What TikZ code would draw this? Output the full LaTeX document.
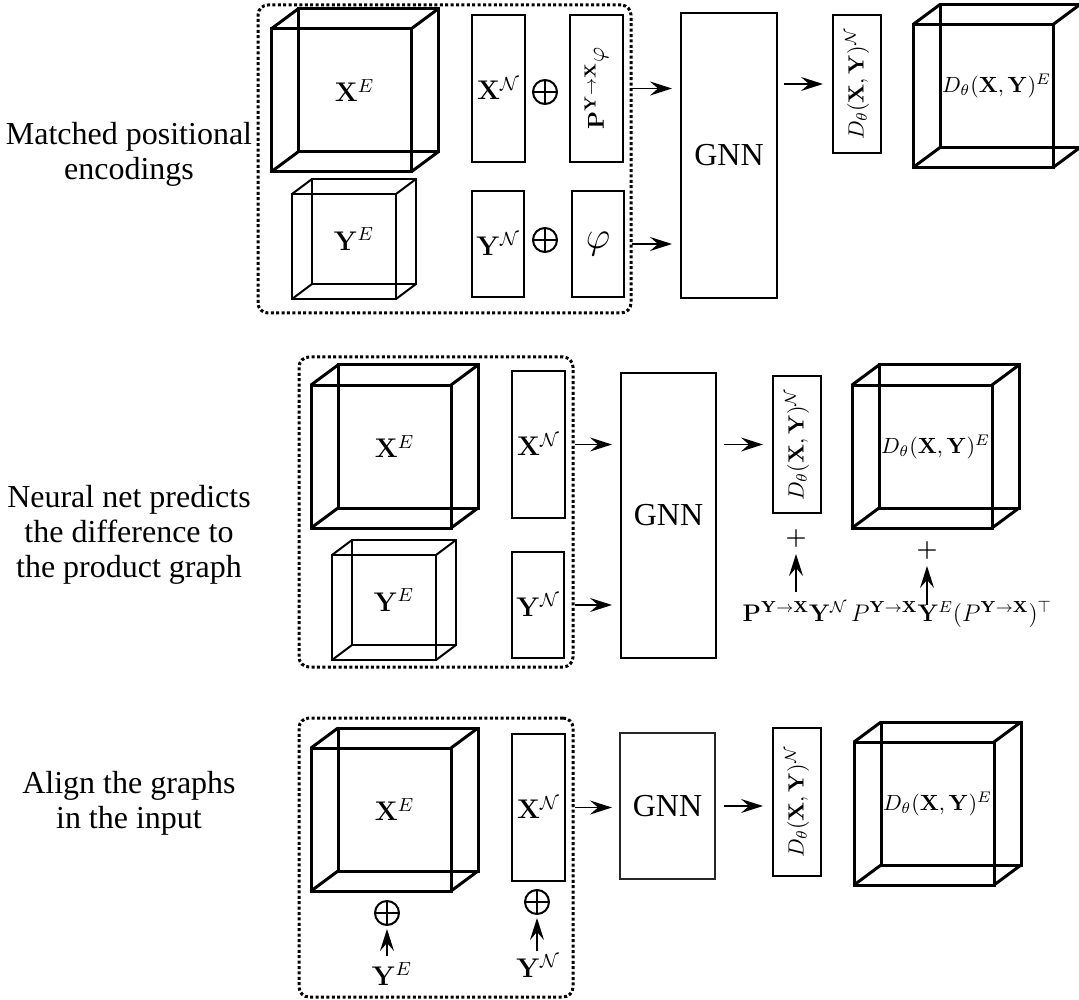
\RequirePackage{fix-cm}
\documentclass[tikz,border=0pt]{standalone}
\usepackage[no-math]{fontspec}
\setmainfont{Liberation Serif}
\usepackage{amsmath}
\usepackage{amssymb}
\usepackage{tikz}
\usetikzlibrary{arrows.meta, calc}

\begin{document}
\begin{tikzpicture}[
    x=0.5pt, y=-0.5pt,
    every node/.style={inner sep=0pt, outer sep=0pt},
    bigface/.style={draw, line width=1.5pt, minimum width=70pt, minimum height=71.5pt},
    smallface/.style={draw, line width=1pt, minimum width=52pt, minimum height=52.5pt},
    slab/.style={draw, line width=1pt, minimum width=26.5pt, minimum height=73.5pt},
    shortslab/.style={draw, line width=1pt, minimum width=26pt, minimum height=53pt},
    outslab/.style={draw, line width=1pt, minimum width=24pt, minimum height=69pt},
    gnn/.style={draw, line width=1pt, minimum width=48pt, minimum height=142.5pt,
                font=\fontsize{16}{19}\selectfont},
    dotgroup/.style={draw, line width=1.5pt, dash pattern=on 1.5pt off 1.2pt, rounded corners=5pt},
    rowtext/.style={align=center, font=\fontsize{16}{17.5}\selectfont},
    mlbl/.style={font=\fontsize{13.5}{16}\selectfont},
    dlbl/.style={font=\fontsize{11}{13}\selectfont},
    plbl/.style={font=\fontsize{12}{14}\selectfont},
    oplus/.style={circle, draw, line width=1pt, minimum size=12pt,
                  path picture={\draw[line width=1pt]
                      (path picture bounding box.north) -- (path picture bounding box.south)
                      (path picture bounding box.west) -- (path picture bounding box.east);}},
    arr/.style={-{Stealth[length=11pt, width=7pt, inset=4pt]}, line width=0.75pt},
    pics/bigcube/.style 2 args={code={
        \node[bigface] (-f) at (0,0) {};
        \node[bigface] (-b) at (27,-20) {};
        \draw[line width=1.5pt] (-f.north west) -- (-b.north west) (-f.north east) -- (-b.north east)
            (-f.south west) -- (-b.south west) (-f.south east) -- (-b.south east);
        \node[#1] (-l) at (13.5,-10) {#2};
    }},
    pics/smallcube/.style 2 args={code={
        \node[smallface] (-f) at (0,0) {};
        \node[smallface] (-b) at (20,-15) {};
        \draw[line width=1pt] (-f.north west) -- (-b.north west) (-f.north east) -- (-b.north east)
            (-f.south west) -- (-b.south west) (-f.south east) -- (-b.south east);
        \node[#1] (-l) at (10,-7.5) {#2};
    }},
]

\useasboundingbox (0,0) rectangle (1079,999);

\node[rowtext] (cap1) at (129,154.5) {Matched positional\\encodings};
\node[rowtext] (cap2) at (129,534.5) {Neural net predicts\\the difference to\\the product graph};
\node[rowtext] (cap3) at (129,803.5) {Align the graphs\\in the input};

\node[dotgroup, minimum width=186.5pt, minimum height=154pt] (grp1) at (444.5,159) {};
\pic (xe1) at (341,100.5) {bigcube={mlbl}{$\mathbf{X}^E$}};
\pic (ye1) at (344,246.5) {smallcube={mlbl}{$\mathbf{Y}^E$}};
\node[slab, mlbl] (xn1) at (498.5,88.5) {$\mathbf{X}^{\mathcal{N}}$};
\node[oplus] (op1) at (545,92) {};
\node[slab, font=\fontsize{11.5}{13}\selectfont] (pe1) at (596.5,88.5) {\rotatebox{90}{$\mathbf{P}^{\mathbf{Y}\to\mathbf{X}}\varphi$}};
\node[shortslab, mlbl] (yn1) at (498,244) {$\mathbf{Y}^{\mathcal{N}}$};
\node[oplus] (op2) at (545,240) {};
\node[shortslab, font=\fontsize{19}{21}\selectfont] (phi1) at (598,244) {$\varphi$};
\node[gnn] (gnn1) at (729,155.5) {GNN};
\node[outslab, dlbl] (dn1) at (857,84) {\rotatebox{90}{$D_\theta(\mathbf{X},\mathbf{Y})^{\mathcal{N}}$}};
\pic (de1) at (983,96) {bigcube={dlbl}{$D_\theta(\mathbf{X},\mathbf{Y})^E$}};

\draw[arr, shorten <=0.5pt, shorten >=4.5pt] (grp1.east |- xn1) -- (gnn1.west |- xn1);
\draw[arr, shorten <=0.5pt, shorten >=4.5pt] (grp1.east |- yn1) -- (gnn1.west |- yn1);
\draw[arr, shorten <=3.5pt, shorten >=5pt] (gnn1.east |- dn1) -- (dn1.west);

\node[dotgroup, minimum width=137pt, minimum height=155pt] (grp2) at (436,512) {};
\pic (xe2) at (381,456.5) {bigcube={mlbl}{$\mathbf{X}^E$}};
\pic (ye2) at (384,607.5) {smallcube={mlbl}{$\mathbf{Y}^E$}};
\node[slab, mlbl] (xn2) at (538.5,444.5) {$\mathbf{X}^{\mathcal{N}}$};
\node[shortslab, mlbl] (yn2) at (538,605) {$\mathbf{Y}^{\mathcal{N}}$};
\node[gnn, minimum width=47.5pt] (gnn2) at (668.5,515.5) {GNN};
\node[outslab, dlbl, minimum height=68.5pt] (dn2) at (797,444.5) {\rotatebox{90}{$D_\theta(\mathbf{X},\mathbf{Y})^{\mathcal{N}}$}};
\pic (de2) at (922,456.5) {bigcube={dlbl}{$D_\theta(\mathbf{X},\mathbf{Y})^E$}};
\node[plbl] (pl1) at (796,538) {$\boldsymbol{+}$};
\node[plbl, anchor=base] (py1) at (795,621) {$\mathbf{P}^{\mathbf{Y}\to\mathbf{X}}\mathbf{Y}^{\mathcal{N}}$};
\node[plbl] (pl2) at (927,550) {$\boldsymbol{+}$};
\node[plbl, anchor=base] (py2) at (951.5,621) {$P^{\mathbf{Y}\to\mathbf{X}}\mathbf{Y}^E(P^{\mathbf{Y}\to\mathbf{X}})^\top$};

\draw[arr, shorten <=1pt, shorten >=4.5pt] (grp2.east |- xn2) -- (gnn2.west |- xn2);
\draw[arr, shorten <=1pt, shorten >=4.5pt] (grp2.east |- yn2) -- (gnn2.west |- yn2);
\draw[arr, shorten <=4pt, shorten >=5pt] (gnn2.east |- dn2) -- (dn2.west);
\draw[arr, shorten <=4.5pt, shorten >=3.5pt] (py1.north -| pl1) -- (pl1.south);
\draw[arr, shorten <=-2pt, shorten >=3.5pt] (py2.north -| pl2) -- (pl2.south);

\node[dotgroup, minimum width=137pt, minimum height=139.5pt] (grp3) at (436,857.5) {};
\pic (xe3) at (381,819.5) {bigcube={mlbl}{$\mathbf{X}^E$}};
\node[slab, mlbl] (xn3) at (538.5,807.5) {$\mathbf{X}^{\mathcal{N}}$};
\node[oplus] (op3) at (387,913) {};
\node[mlbl, anchor=base] (ye3) at (392,985) {$\mathbf{Y}^E$};
\node[oplus] (op4) at (537,902) {};
\node[mlbl, anchor=base] (yn3) at (538,977) {$\mathbf{Y}^{\mathcal{N}}$};
\node[gnn, minimum width=47.5pt, minimum height=73pt, line width=0.8pt, draw=black!85] (gnn3) at (667.5,806) {GNN};
\node[outslab, dlbl, minimum height=74pt, line width=1.3pt] (dn3) at (797,802) {\rotatebox{90}{$D_\theta(\mathbf{X},\mathbf{Y})^{\mathcal{N}}$}};
\pic (de3) at (924,813.5) {bigcube={dlbl}{$D_\theta(\mathbf{X},\mathbf{Y})^E$}};

\draw[arr, shorten <=3pt, shorten >=2pt] (ye3.north -| op3) -- (op3.south);
\draw[arr, shorten <=1.5pt, shorten >=2pt] (yn3.north -| op4) -- (op4.south);
\draw[arr, shorten <=1pt, shorten >=4pt] (grp3.east |- xn3) -- (gnn3.west |- xn3);
\draw[arr, shorten <=4.5pt, shorten >=5pt] (gnn3.east) -- (dn3.west |- gnn3);

\end{tikzpicture}
\end{document}
